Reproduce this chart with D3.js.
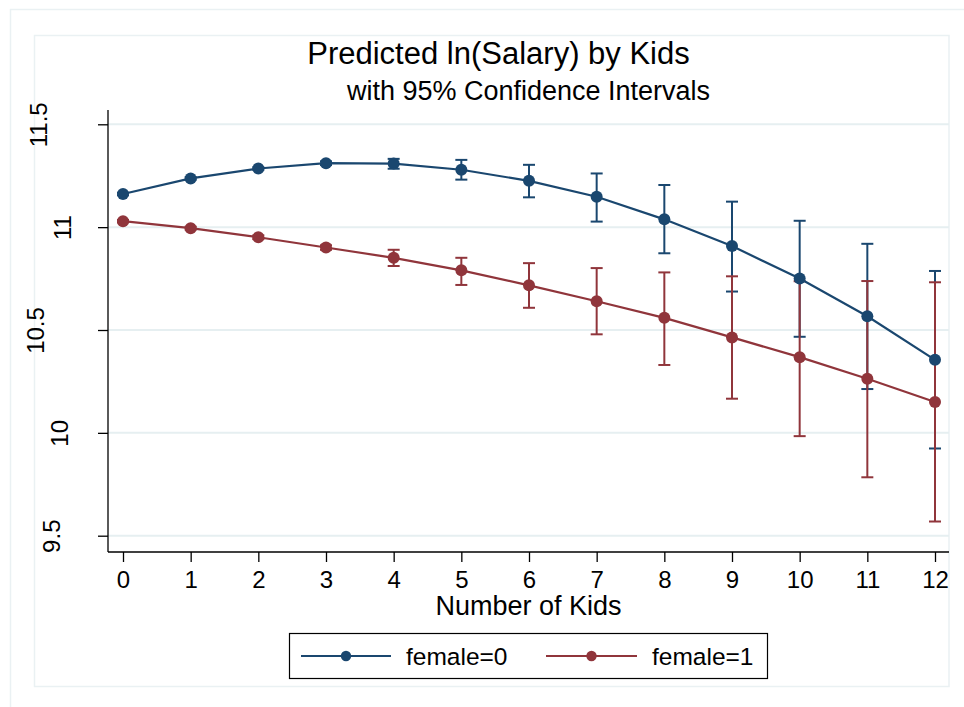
<!DOCTYPE html>
<html>
<head>
<meta charset="utf-8">
<script src="https://cdn.jsdelivr.net/npm/d3@7"></script>
<style>
  html, body { margin: 0; padding: 0; background: #ffffff; }
  svg { display: block; font-family: "Liberation Sans", Arial, sans-serif; }
</style>
</head>
<body>
<svg id="chart" width="964" height="707"></svg>
<script>
// ---- data ----
const kids = [0, 1, 2, 3, 4, 5, 6, 7, 8, 9, 10, 11, 12];
const male = [11.161, 11.237, 11.285, 11.311, 11.309, 11.279, 11.225, 11.148, 11.038, 10.908, 10.750, 10.567, 10.355];
const maleLo = [11.155, 11.231, 11.279, 11.302, 11.284, 11.231, 11.145, 11.027, 10.873, 10.687, 10.467, 10.213, 9.924];
const maleHi = [11.167, 11.243, 11.291, 11.320, 11.332, 11.327, 11.303, 11.261, 11.205, 11.124, 11.031, 10.919, 10.787];
const female = [11.029, 10.995, 10.951, 10.901, 10.851, 10.790, 10.717, 10.640, 10.559, 10.464, 10.368, 10.263, 10.150];
const femaleLo = [11.023, 10.988, 10.942, 10.890, 10.811, 10.719, 10.608, 10.479, 10.330, 10.166, 9.984, 9.784, 9.569];
const femaleHi = [11.035, 11.002, 10.960, 10.912, 10.890, 10.851, 10.825, 10.801, 10.780, 10.761, 10.737, 10.738, 10.732];
const yTicks = [9.5, 10, 10.5, 11, 11.5];
const yTickLabels = ["9.5", "10", "10.5", "11", "11.5"];
const seriesNames = ["female=0", "female=1"];
const titleText = "Predicted ln(Salary) by Kids";
const subtitleText = "with 95% Confidence Intervals";
const xTitleText = "Number of Kids";

const colors = ["#1a476f", "#90353b"];
const grid = "#e6eff1";
const frame = "#eaf1f3";

const svg = d3.select("#chart");

// frames
svg.append("rect").attr("x", 10.5).attr("y", 9.5).attr("width", 970).attr("height", 720)
  .attr("fill", "none").attr("stroke", frame).attr("stroke-width", 1.5);
svg.append("rect").attr("x", 34.5).attr("y", 35.5).attr("width", 914.5).attr("height", 651)
  .attr("fill", "none").attr("stroke", frame).attr("stroke-width", 1.5);

// plot region
const plotL = 108, plotR = 949, plotT = 110, plotB = 552;
const x = d3.scaleLinear().domain([0, 12]).range([123, 935]);
const y = d3.scaleLinear().domain([9.5, 11.5]).range([535.7, 124.3]);

// gridlines
svg.append("g").selectAll("line").data(yTicks).join("line")
  .attr("x1", plotL).attr("x2", plotR)
  .attr("y1", d => y(d)).attr("y2", d => y(d))
  .attr("stroke", grid).attr("stroke-width", 2);

// y axis
const yAxis = d3.axisLeft(y).tickValues(yTicks).tickSize(10).tickFormat((d, i) => yTickLabels[i]);
const gy = svg.append("g").attr("transform", `translate(${plotL},0)`).call(yAxis);
gy.select(".domain").attr("d", `M0,${plotT}V${plotB}`).attr("stroke", "#000").attr("stroke-width", 1.3);
gy.selectAll(".tick line").attr("stroke", "#000").attr("stroke-width", 1.3);
gy.selectAll(".tick text")
  .attr("x", null).attr("dy", null)
  .attr("text-anchor", "middle")
  .attr("font-size", 24).attr("fill", "#000")
  .style("font-family", '"Liberation Sans", Arial, sans-serif')
  .each(function () {
    // longer labels sit further from the axis, as in the reference
    const w = this.getComputedTextLength();
    const baseX = (92 - 1.2 * w + 8.5) - plotL;
    d3.select(this).attr("transform", `translate(${baseX},0) rotate(-90)`);
  });

// x axis
const xAxis = d3.axisBottom(x).tickValues(kids).tickSize(10).tickFormat(d3.format("d"));
const gx = svg.append("g").attr("transform", `translate(0,${plotB})`).call(xAxis);
gx.select(".domain").attr("d", `M${plotL},0H${plotR}`).attr("stroke", "#000").attr("stroke-width", 1.3);
gx.selectAll(".tick line").attr("stroke", "#000").attr("stroke-width", 1.3);
gx.selectAll(".tick text")
  .attr("y", 36).attr("dy", null)
  .attr("font-size", 24).attr("fill", "#000")
  .style("font-family", '"Liberation Sans", Arial, sans-serif');

// series
const series = [
  { name: seriesNames[0], v: male, lo: maleLo, hi: maleHi, c: colors[0] },
  { name: seriesNames[1], v: female, lo: femaleLo, hi: femaleHi, c: colors[1] }
];

// confidence intervals (drawn first)
series.forEach(s => {
  const g = svg.append("g");
  kids.forEach((k, i) => {
    const cx = x(k);
    g.append("line").attr("x1", cx).attr("x2", cx).attr("y1", y(s.lo[i])).attr("y2", y(s.hi[i]))
      .attr("stroke", s.c).attr("stroke-width", 2);
    [s.lo[i], s.hi[i]].forEach(val => {
      g.append("line").attr("x1", cx - 6).attr("x2", cx + 6).attr("y1", y(val)).attr("y2", y(val))
        .attr("stroke", s.c).attr("stroke-width", 2);
    });
  });
});

// lines + markers
series.forEach(s => {
  const line = d3.line().x((d, i) => x(kids[i])).y(d => y(d));
  svg.append("path").datum(s.v).attr("d", line)
    .attr("fill", "none").attr("stroke", s.c).attr("stroke-width", 2.2);
  svg.append("g").selectAll("circle").data(s.v).join("circle")
    .attr("cx", (d, i) => x(kids[i])).attr("cy", d => y(d)).attr("r", 6)
    .attr("fill", s.c);
});

// titles
svg.append("text").attr("x", 498.5).attr("y", 64).attr("text-anchor", "middle")
  .attr("font-size", 31).attr("fill", "#000").text(titleText);
svg.append("text").attr("x", 528.5).attr("y", 100).attr("text-anchor", "middle")
  .attr("font-size", 27).attr("fill", "#000").text(subtitleText);
svg.append("text").attr("x", 528.5).attr("y", 615).attr("text-anchor", "middle")
  .attr("font-size", 27).attr("fill", "#000").text(xTitleText);

// legend
const lg = svg.append("g");
lg.append("rect").attr("x", 289.5).attr("y", 633.5).attr("width", 478).attr("height", 45)
  .attr("fill", "#fff").attr("stroke", "#000").attr("stroke-width", 1.2);
const legendItems = [
  { x0: 301, x1: 391, tx: 406 },
  { x0: 546, x1: 637, tx: 652 }
];
series.forEach((s, i) => {
  const it = legendItems[i];
  lg.append("line").attr("x1", it.x0).attr("x2", it.x1).attr("y1", 656).attr("y2", 656)
    .attr("stroke", s.c).attr("stroke-width", 2);
  lg.append("circle").attr("cx", (it.x0 + it.x1) / 2).attr("cy", 656).attr("r", 5.2).attr("fill", s.c);
  lg.append("text").attr("x", it.tx).attr("y", 665).attr("font-size", 24.5).attr("fill", "#000").text(s.name);
});
</script>
</body>
</html>
